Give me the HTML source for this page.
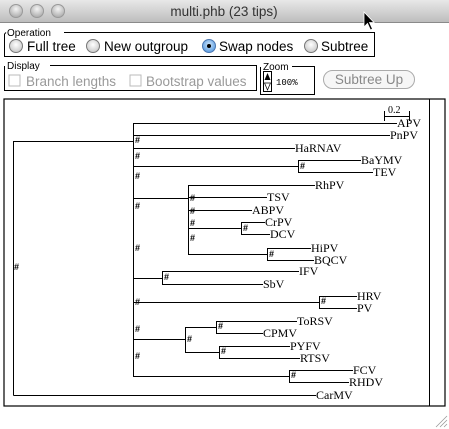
<!DOCTYPE html>
<html><head><meta charset="utf-8"><style>
html,body{margin:0;padding:0;width:449px;height:429px;overflow:hidden;background:#fff;font-family:"Liberation Sans",sans-serif}
</style></head><body>
<svg width="449" height="429" viewBox="0 0 449 429" xmlns="http://www.w3.org/2000/svg">
<defs>
<linearGradient id="tb" x1="0" y1="0" x2="0" y2="1"><stop offset="0" stop-color="#e8e8e8"/><stop offset="1" stop-color="#bdbdbd"/></linearGradient>
<radialGradient id="lt" cx="0.5" cy="0.35" r="0.6"><stop offset="0" stop-color="#f4f4f4"/><stop offset="1" stop-color="#b0b0b0"/></radialGradient>
<radialGradient id="rb" cx="0.5" cy="0.4" r="0.6"><stop offset="0" stop-color="#ffffff"/><stop offset="1" stop-color="#c8c8c8"/></radialGradient>
<radialGradient id="rbs" cx="0.5" cy="0.4" r="0.6"><stop offset="0" stop-color="#cfe6fb"/><stop offset="1" stop-color="#5a9be0"/></radialGradient>
</defs>
<rect x="0" y="0" width="449" height="22" fill="url(#tb)"/>
<line x1="0" y1="22.5" x2="449" y2="22.5" stroke="#8a8a8a"/>
<circle cx="16" cy="11" r="6.5" fill="url(#lt)" stroke="#999"/>
<circle cx="37" cy="11" r="6.5" fill="url(#lt)" stroke="#999"/>
<circle cx="58" cy="11" r="6.5" fill="url(#lt)" stroke="#999"/>
<text x="224" y="16" font-size="13.5" text-anchor="middle" fill="#333">multi.phb (23 tips)</text>
<path d="M364 12 L364 27 L367.5 23.5 L370.5 30 L372.5 29 L369.5 22.5 L374 22.5 Z" fill="#000" stroke="#fff" stroke-width="0.8"/>

<g font-size="13.5" fill="#000">
<path d="M4.5 34 L4.5 56.5 L374.5 56.5 L374.5 32.5 L64 32.5 M4.5 34 L6 32.5" fill="none" stroke="#000"/>
<text x="7" y="36" font-size="10">Operation</text>
<circle cx="16" cy="46" r="6.5" fill="url(#rb)" stroke="#777"/>
<text x="27" y="51">Full tree</text>
<circle cx="93" cy="46" r="6.5" fill="url(#rb)" stroke="#777"/>
<text x="104" y="51">New outgroup</text>
<circle cx="209" cy="46" r="6.5" fill="url(#rbs)" stroke="#4a76b0"/>
<circle cx="209" cy="46" r="2" fill="#000"/>
<text x="219" y="51">Swap nodes</text>
<circle cx="311" cy="46" r="6.5" fill="url(#rb)" stroke="#777"/>
<text x="321" y="51">Subtree</text>

<path d="M4.5 66 L4.5 90.5 L256.5 90.5 L256.5 65.5 L50 65.5" fill="none" stroke="#000"/>
<text x="7" y="69" font-size="10">Display</text>
<rect x="9" y="75" width="11" height="11" fill="#fff" stroke="#bbb"/>
<text x="26" y="86" fill="#999">Branch lengths</text>
<rect x="130" y="75" width="11" height="11" fill="#fff" stroke="#bbb"/>
<text x="146" y="86" fill="#999">Bootstrap values</text>

<path d="M260.5 67 L260.5 94.5 L314.5 94.5 L314.5 66.5 L292 66.5" fill="none" stroke="#000"/>
<text x="263" y="70" font-size="10">Zoom</text>
<rect x="263.5" y="71.5" width="8" height="20" fill="#fff" stroke="#000"/>
<path d="M264.5 80 L267.5 73 L270.5 80 Z" fill="#000"/>
<path d="M264.5 83 L267.5 90 L270.5 83 Z" fill="#fff" stroke="#000" stroke-width="0.7"/>
<text x="276" y="85" font-size="9" font-family="Liberation Mono,monospace">100%</text>
<rect x="323.5" y="70.5" width="91" height="18" rx="9" fill="#f6f6f6" stroke="#aaa"/>
<text x="369" y="84" text-anchor="middle" fill="#888">Subtree Up</text>
</g>

<rect x="4" y="99" width="441" height="307" fill="#fff" stroke="#000" stroke-width="1.2"/>
<line x1="429.5" y1="99" x2="429.5" y2="406" stroke="#000"/>

<g stroke="#000" stroke-width="1" fill="none">
<path d="M384.5 111 V121 M409.5 111 V121 M384.5 116.5 H409.5"/>
<path d="M13.5 395.5 V141.5 H133 M13.5 395.5 H316"/>
<path d="M133.5 123 V376.5"/>
<path d="M133 123.5 H397 M133 135.5 H390 M133 148.5 H295"/>
<path d="M133 166.5 H298.5 M298.5 160 V172.5 M298 160.5 H361 M298 172.5 H373"/>
<path d="M133 198.5 H188.5 M188.5 185 V254.5 M188 185.5 H315 M188 197.5 H267 M188 210.5 H252 M188 228.5 H241.5 M241.5 222 V234.5 M241 222.5 H265 M241 234.5 H270 M188 254.5 H267.5 M267.5 248 V260.5 M267 248.5 H311 M267 260.5 H314"/>
<path d="M133 278.5 H162.5 M162.5 271 V284.5 M162 271.5 H299 M162 284.5 H263"/>
<path d="M133 302.5 H319.5 M319.5 296 V308.5 M319 296.5 H357 M319 308.5 H357"/>
<path d="M133 339.5 H185.5 M185.5 327 V352.5 M185 327.5 H216.5 M216.5 321 V333.5 M216 321.5 H297 M216 333.5 H263 M185 352.5 H219.5 M219.5 346 V358.5 M219 346.5 H290 M219 358.5 H300"/>
<path d="M133 376.5 H289.5 M289.5 370 V382.5 M289 370.5 H353 M289 382.5 H349"/>
</g>

<g font-family="Liberation Serif,serif" font-size="12" fill="#000">
<text x="388" y="113" font-size="10">0.2</text>
<text x="397" y="127">APV</text>
<text x="390" y="139">PnPV</text>
<text x="295" y="152">HaRNAV</text>
<text x="361" y="164">BaYMV</text>
<text x="373" y="176">TEV</text>
<text x="315" y="189">RhPV</text>
<text x="267" y="201">TSV</text>
<text x="252" y="214">ABPV</text>
<text x="265" y="226">CrPV</text>
<text x="270" y="238">DCV</text>
<text x="311" y="252">HiPV</text>
<text x="314" y="264">BQCV</text>
<text x="299" y="275">IFV</text>
<text x="263" y="288">SbV</text>
<text x="357" y="300">HRV</text>
<text x="357" y="312">PV</text>
<text x="297" y="325">ToRSV</text>
<text x="263" y="337">CPMV</text>
<text x="290" y="350">PYFV</text>
<text x="300" y="362">RTSV</text>
<text x="353" y="374">FCV</text>
<text x="349" y="386">RHDV</text>
<text x="316" y="399">CarMV</text>
</g>
<g font-family="Liberation Sans,sans-serif" font-size="9" font-weight="bold" fill="#000">
<text x="14" y="270">#</text>
<text x="135" y="143">#</text>
<text x="135" y="159">#</text>
<text x="135" y="179">#</text>
<text x="135" y="209">#</text>
<text x="135" y="251">#</text>
<text x="135" y="305">#</text>
<text x="135" y="332">#</text>
<text x="135" y="359">#</text>
<text x="300" y="169">#</text>
<text x="190" y="201">#</text>
<text x="190" y="214">#</text>
<text x="190" y="226">#</text>
<text x="190" y="241">#</text>
<text x="243" y="231">#</text>
<text x="269" y="257">#</text>
<text x="164" y="280">#</text>
<text x="321" y="304">#</text>
<text x="187" y="342">#</text>
<text x="218" y="329">#</text>
<text x="221" y="354">#</text>
<text x="291" y="378">#</text>
</g>
<g stroke="#999" stroke-width="0.8"><line x1="436" y1="427" x2="447" y2="416"/><line x1="440" y1="427" x2="447" y2="420"/><line x1="444" y1="427" x2="447" y2="424"/></g>
</svg>
</body></html>
